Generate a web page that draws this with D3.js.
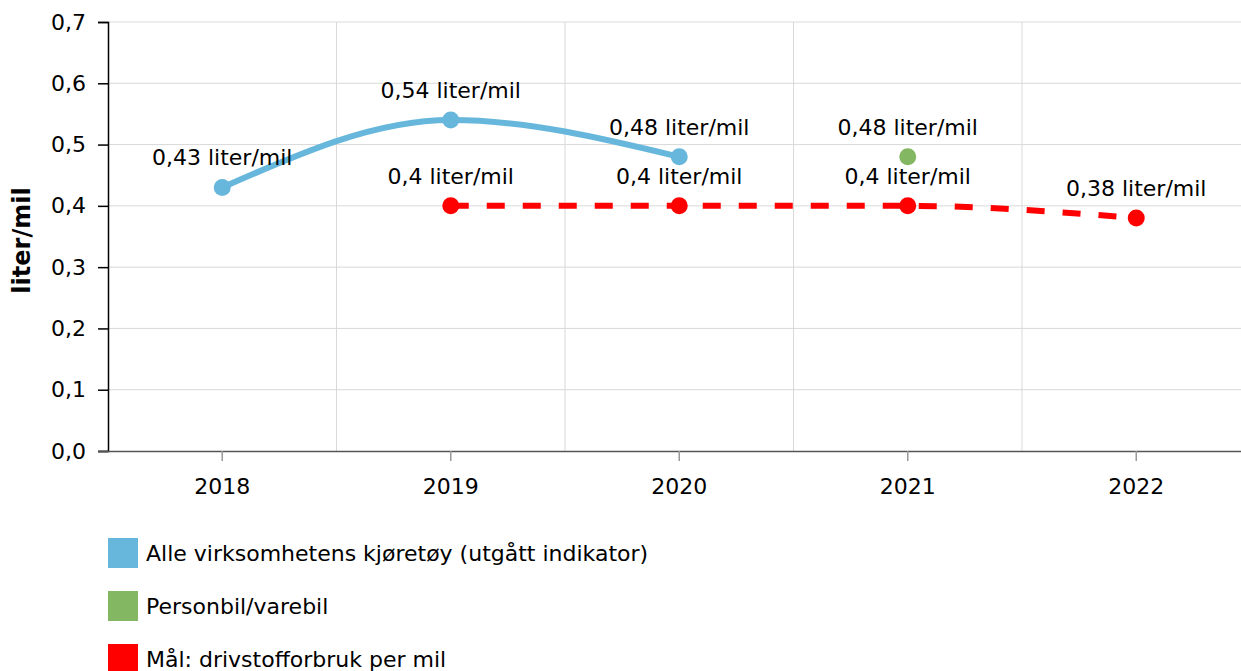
<!DOCTYPE html>
<html>
<head>
<meta charset="utf-8">
<script src="https://cdn.jsdelivr.net/npm/d3@7"></script>
<style>
  html, body { margin: 0; padding: 0; background: #fff; }
  svg { display: block; font-family: "DejaVu Sans", Verdana, sans-serif; }
</style>
</head>
<body>
<svg id="chart" width="1241" height="671"></svg>
<script>
const years = ["2018", "2019", "2020", "2021", "2022"];
const alleValues = [0.43, 0.54, 0.48, null, null];
const personbilValues = [null, null, null, 0.48, null];
const maalValues = [null, 0.4, 0.4, 0.4, 0.38];
const yTicks = [0, 0.1, 0.2, 0.3, 0.4, 0.5, 0.6, 0.7];
const seriesNames = ["Alle virksomhetens kjøretøy (utgått indikator)", "Personbil/varebil", "Mål: drivstofforbruk per mil"];
const seriesColors = ["#67b7dc", "#84b761", "#ff0000"];
const unit = "liter/mil";

const svg = d3.select("#chart");
const plotLeft = 108, plotTop = 22, plotBottom = 451, bandW = 228.5;
const FS = 22;

const x = d3.scaleBand().domain(years).range([plotLeft, plotLeft + bandW * years.length]);
const y = d3.scaleLinear().domain([0, 0.7]).range([plotBottom, plotTop]);
const cx = d => x(d) + x.bandwidth() / 2;
const fmt = v => String(v).replace(".", ",");

// horizontal grid
svg.append("g").selectAll("line").data(yTicks.slice(1)).join("line")
  .attr("x1", plotLeft).attr("x2", 1241)
  .attr("y1", d => y(d)).attr("y2", d => y(d))
  .attr("stroke", "#d9d9d9").attr("stroke-width", 1);
// vertical grid at band boundaries
svg.append("g").selectAll("line").data(years.slice(1)).join("line")
  .attr("x1", d => x(d)).attr("x2", d => x(d))
  .attr("y1", plotTop).attr("y2", plotBottom)
  .attr("stroke", "#d9d9d9").attr("stroke-width", 1);

// y axis
const yAxis = svg.append("g").attr("transform", `translate(${plotLeft},0)`)
  .call(d3.axisLeft(y).tickValues(yTicks).tickSize(10).tickPadding(12).tickFormat(d => d.toFixed(1).replace(".", ",")));
yAxis.select(".domain").attr("stroke", "#000").attr("stroke-width", 1.5);
yAxis.selectAll(".tick line").attr("stroke", "#000").attr("stroke-width", 1.5);
yAxis.selectAll("text").attr("font-size", FS).attr("fill", "#000").attr("font-family", "DejaVu Sans");

// x axis
const xAxis = svg.append("g").attr("transform", `translate(0,${plotBottom})`)
  .call(d3.axisBottom(x).tickSize(10).tickPadding(17).tickSizeOuter(0));
xAxis.select(".domain").attr("stroke", "#555").attr("stroke-width", 1.5).attr("d", `M${plotLeft - 10},0.5H1241`);
xAxis.selectAll(".tick line").attr("stroke", "#999").attr("stroke-width", 1.5);
xAxis.selectAll("text").attr("font-size", FS).attr("fill", "#000").attr("font-family", "DejaVu Sans");

// y title
svg.append("text")
  .attr("transform", `translate(22,${(plotTop + plotBottom) / 2 + 4}) rotate(-90)`)
  .attr("text-anchor", "middle").attr("dominant-baseline", "central")
  .attr("font-size", 24).attr("font-weight", "bold").attr("fill", "#000")
  .text(unit);

function seriesData(vals) {
  return years.map((yr, i) => ({ yr, v: vals[i] })).filter(d => d.v !== null);
}
const line = d3.line().x(d => cx(d.yr)).y(d => y(d.v)).curve(d3.curveMonotoneX);

const all = [alleValues, personbilValues, maalValues];
all.forEach((vals, si) => {
  const data = seriesData(vals);
  const g = svg.append("g");
  if (data.length > 1) {
    g.append("path").datum(data)
      .attr("d", line).attr("fill", "none")
      .attr("stroke", seriesColors[si]).attr("stroke-width", 6)
      .attr("stroke-dasharray", si === 2 ? "18,18" : null);
  }
  g.selectAll("circle").data(data).join("circle")
    .attr("cx", d => cx(d.yr)).attr("cy", d => y(d.v)).attr("r", 8.5)
    .attr("fill", seriesColors[si]);
  g.selectAll("text").data(data).join("text")
    .attr("x", d => cx(d.yr)).attr("y", d => y(d.v) - 22)
    .attr("text-anchor", "middle").attr("font-size", FS).attr("fill", "#000")
    .text(d => fmt(d.v) + " " + unit);
});

// legend
const legend = svg.append("g").selectAll("g").data(seriesNames).join("g")
  .attr("transform", (d, i) => `translate(108,${538 + i * 53})`);
legend.append("rect").attr("width", 30).attr("height", 30).attr("fill", (d, i) => seriesColors[i]);
legend.append("text").attr("x", 38).attr("y", 15).attr("dy", "0.35em")
  .attr("font-size", FS).attr("fill", "#000").text(d => d);
</script>
</body>
</html>
